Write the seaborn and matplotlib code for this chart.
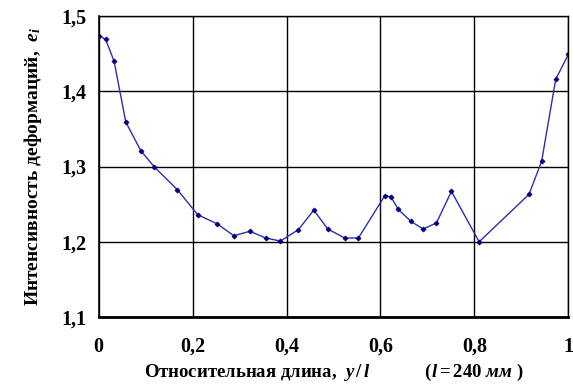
import matplotlib
matplotlib.use("Agg")
import matplotlib.pyplot as plt
import seaborn as sns
import pandas as pd
from matplotlib.ticker import FixedLocator, FuncFormatter

# Relative position along the specimen, y / l
rel_length = [0.000, 0.015, 0.033, 0.058, 0.090, 0.118, 0.168, 0.211, 0.252,
              0.288, 0.322, 0.356, 0.387, 0.425, 0.458, 0.488, 0.524, 0.553,
              0.609, 0.622, 0.638, 0.665, 0.691, 0.719, 0.751, 0.810, 0.916,
              0.943, 0.973, 1.000]
# Strain intensity e_i
strain_intensity = [1.474, 1.469, 1.440, 1.359, 1.321, 1.300, 1.269, 1.236, 1.224,
                    1.208, 1.214, 1.205, 1.201, 1.216, 1.242, 1.217, 1.205, 1.205,
                    1.261, 1.260, 1.243, 1.227, 1.217, 1.225, 1.267, 1.200, 1.263,
                    1.307, 1.416, 1.449]

x_ticks = [0, 0.2, 0.4, 0.6, 0.8, 1.0]
y_ticks = [1.1, 1.2, 1.3, 1.4, 1.5]

df = pd.DataFrame({"y_l": rel_length, "e_i": strain_intensity})

sns.set_theme(style="white")
plt.rcParams["font.family"] = ["Liberation Serif", "DejaVu Serif"]
plt.rcParams["font.weight"] = "bold"
plt.rcParams["mathtext.fontset"] = "custom"
plt.rcParams["mathtext.rm"] = "Liberation Serif:bold"
plt.rcParams["mathtext.it"] = "Liberation Serif:italic:bold"

fig = plt.figure(figsize=(5.73, 3.90), dpi=100)
ax = fig.add_axes([0.172, 0.187, 0.820, 0.772])

sns.lineplot(data=df, x="y_l", y="e_i", ax=ax, color="#2e2ea8", linewidth=1.0,
             marker="D", markersize=2.6, markerfacecolor="#000080",
             markeredgecolor="#000080", markeredgewidth=0.5)

ax.set_xlim(0, 1)
ax.set_ylim(1.1, 1.5)
ax.xaxis.set_major_locator(FixedLocator(x_ticks))
ax.yaxis.set_major_locator(FixedLocator(y_ticks))


def comma_fmt(v, _pos):
    s = f"{v:.1f}" if abs(v - round(v)) > 1e-9 else f"{int(round(v))}"
    return s.replace(".", ",")


ax.xaxis.set_major_formatter(FuncFormatter(comma_fmt))
ax.yaxis.set_major_formatter(FuncFormatter(comma_fmt))

ax.grid(True, color="black", linewidth=1.0)
for side in ("top", "right"):
    ax.spines[side].set_visible(True)
    ax.spines[side].set_color("black")
    ax.spines[side].set_linewidth(1.0)
ax.spines["left"].set_color("black")
ax.spines["left"].set_linewidth(1.2)
ax.spines["bottom"].set_color("black")
ax.spines["bottom"].set_linewidth(2.0)

ax.tick_params(axis="both", which="major", direction="out", length=5, width=1.0,
               color="black", labelsize=14.5, labelcolor="black", pad=4)
ax.tick_params(axis="x", pad=9)
for lbl in ax.get_xticklabels() + ax.get_yticklabels():
    lbl.set_fontweight("bold")

ax.set_xlabel(r"Относительная длина,  $y\,/\,l$            ($l = 240\ мм$ )",
              fontsize=13.5, fontweight="bold", color="black", labelpad=4)
ax.set_ylabel(r"Интенсивность деформаций,  $e_i$",
              fontsize=14, fontweight="bold", color="black", labelpad=12)

fig.savefig("out.png", dpi=100, facecolor="white")
